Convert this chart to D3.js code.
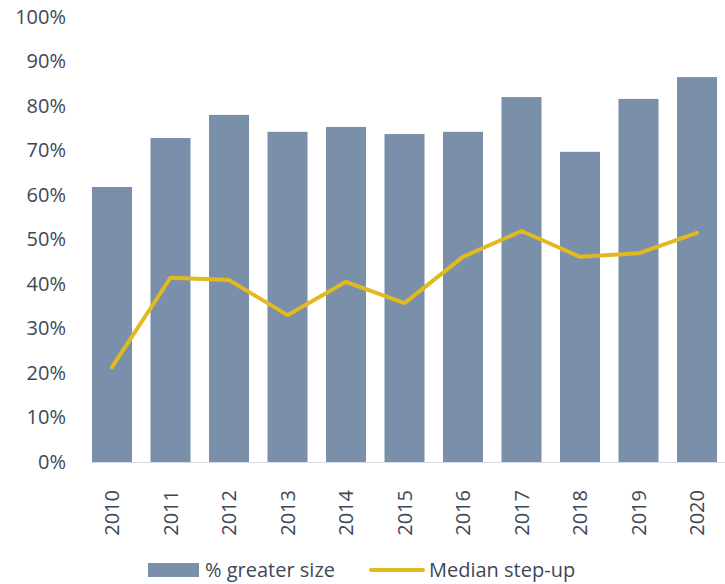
<!DOCTYPE html>
<html>
<head>
<meta charset="utf-8">
<script src="https://cdn.jsdelivr.net/npm/d3@7"></script>
<style>
  body { margin: 0; background: #fff; }
  text { font-family: "Open Sans", sans-serif; fill: #3d4857; }
</style>
</head>
<body>
<svg id="chart" width="725" height="584"></svg>
<script>
const years = ["2010", "2011", "2012", "2013", "2014", "2015", "2016", "2017", "2018", "2019", "2020"];
const greaterSize = [61.8, 72.8, 78.0, 74.2, 75.3, 73.7, 74.2, 82.0, 69.7, 81.6, 86.5];
const medianStepUp = [21.3, 41.4, 40.9, 33.0, 40.5, 35.7, 46.1, 51.9, 46.1, 46.9, 51.5];
const yTicks = [0, 10, 20, 30, 40, 50, 60, 70, 80, 90, 100];

const barColor = "#7a90aa";
const lineColor = "#e2b91f";

const svg = d3.select("#chart");

const x = d3.scaleBand()
  .domain(years)
  .range([82.75, 726.25])
  .paddingInner(0.316)
  .paddingOuter(0.158);

const y = d3.scaleLinear()
  .domain([0, 100])
  .range([462, 17]);

// y axis labels (no line, no ticks)
const yAxis = svg.append("g")
  .attr("transform", "translate(66,0)")
  .call(d3.axisLeft(y).tickValues(yTicks).tickSize(0).tickPadding(0).tickFormat(d => d + "%"));
yAxis.select(".domain").remove();
yAxis.selectAll("text")
  .attr("font-size", 20)
  .attr("font-family", "Open Sans, sans-serif")
  .attr("fill", "#3d4857");

// bars
svg.append("g")
  .selectAll("rect")
  .data(years)
  .join("rect")
  .attr("x", d => x(d))
  .attr("width", x.bandwidth())
  .attr("y", (d, i) => y(greaterSize[i]))
  .attr("height", (d, i) => y(0) - y(greaterSize[i]))
  .attr("fill", barColor);

// baseline
svg.append("line")
  .attr("x1", x(years[0]))
  .attr("x2", 725)
  .attr("y1", y(0) + 0.5)
  .attr("y2", y(0) + 0.5)
  .attr("stroke", "#d6dde8")
  .attr("stroke-width", 1.2);

// x axis labels, rotated
const xAxis = svg.append("g")
  .attr("transform", "translate(0," + y(0) + ")")
  .call(d3.axisBottom(x).tickSize(0).tickPadding(0));
xAxis.select(".domain").remove();
xAxis.selectAll("text")
  .attr("font-size", 20)
  .attr("font-family", "Open Sans, sans-serif")
  .attr("fill", "#3d4857")
  .attr("transform", "rotate(-90)")
  .attr("text-anchor", "end")
  .attr("x", -28)
  .attr("y", 0)
  .attr("dy", "0.35em");

// line
const line = d3.line()
  .x((d, i) => x(years[i]) + x.bandwidth() / 2)
  .y(d => y(d));

svg.append("path")
  .datum(medianStepUp)
  .attr("d", line)
  .attr("fill", "none")
  .attr("stroke", lineColor)
  .attr("stroke-width", 4)
  .attr("stroke-linejoin", "round")
  .attr("stroke-linecap", "round");

// legend
const legend = svg.append("g");
legend.append("rect")
  .attr("x", 148).attr("y", 563)
  .attr("width", 51).attr("height", 14)
  .attr("fill", barColor);
legend.append("text")
  .attr("x", 205).attr("y", 570)
  .attr("dy", "0.35em")
  .attr("font-size", 20)
  .text("% greater size");
legend.append("line")
  .attr("x1", 371).attr("x2", 423)
  .attr("y1", 570).attr("y2", 570)
  .attr("stroke", lineColor)
  .attr("stroke-width", 4)
  .attr("stroke-linecap", "round");
legend.append("text")
  .attr("x", 429).attr("y", 570)
  .attr("dy", "0.35em")
  .attr("font-size", 20)
  .text("Median step-up");
</script>
</body>
</html>
